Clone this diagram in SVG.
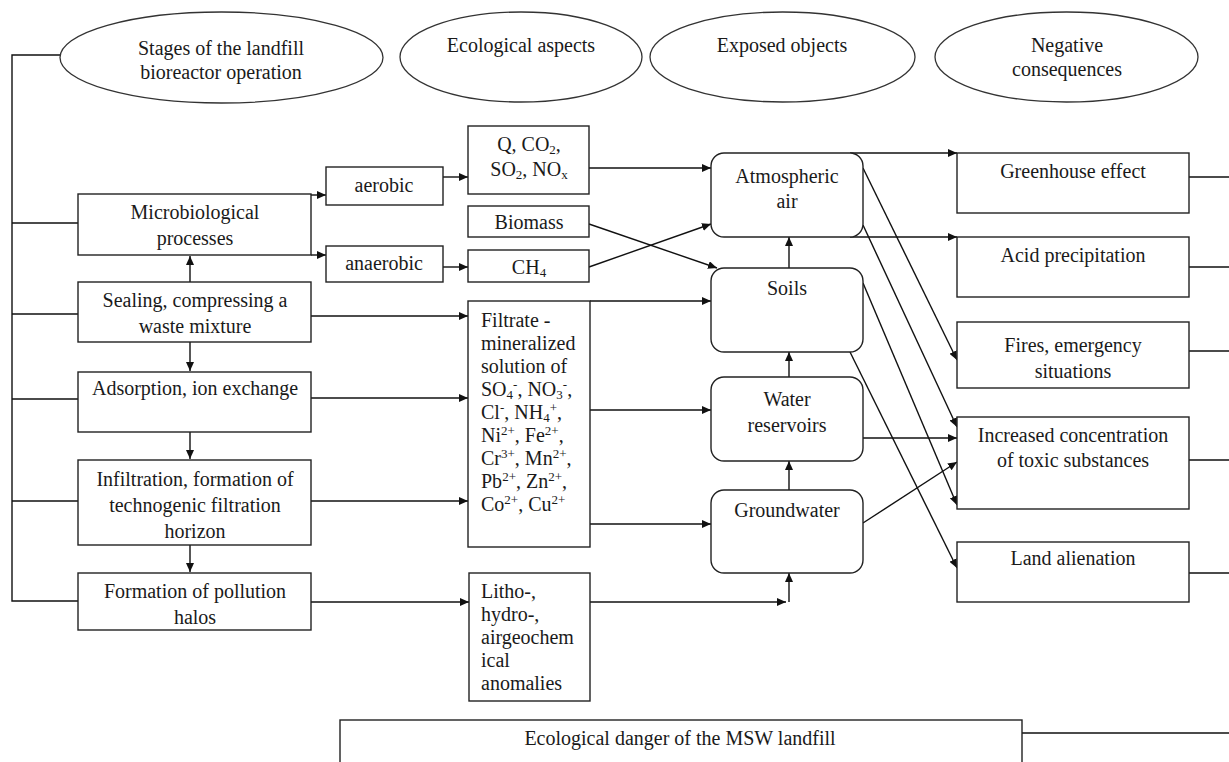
<svg xmlns="http://www.w3.org/2000/svg" width="1229" height="762" viewBox="0 0 1229 762">
<defs>
<marker id="ah" markerUnits="userSpaceOnUse" markerWidth="9" markerHeight="8" refX="9" refY="4" orient="auto"><path d="M0,0 L9,4 L0,8 z" fill="#111"/></marker>
<style>
text{font-family:"Liberation Serif","Times New Roman",serif;font-size:20px;fill:#1a1a1a}
.c{text-anchor:middle}
.n{fill:#fff;stroke:#222;stroke-width:1.4}
.e{fill:#fff;stroke:#333;stroke-width:1.3}
.l{fill:none;stroke:#111;stroke-width:1.4}
.a{fill:none;stroke:#111;stroke-width:1.4;marker-end:url(#ah)}
.s{font-size:13px}
</style>
</defs>
<rect width="1229" height="762" fill="#fff"/>

<g id="connectors">
<path class="l" d="M61,55 H12 V601 H78 M12,223 H78 M12,314 H78 M12,399 H78 M12,501 H78"/>
<path class="a" d="M190,282 V256"/>
<path class="a" d="M190,342 V371"/>
<path class="a" d="M190,432 V459"/>
<path class="a" d="M190,545 V572"/>
<path class="a" d="M311,195 H326"/>
<path class="a" d="M311,255 H326"/>
<path class="a" d="M443,177 H468"/>
<path class="a" d="M443,267 H468"/>
<path class="a" d="M311,316 H468"/>
<path class="a" d="M311,398 H468"/>
<path class="a" d="M311,501 H468"/>
<path class="a" d="M311,602 H469"/>
<path class="a" d="M589,168 H711"/>
<path class="a" d="M589,224 L717,268"/>
<path class="a" d="M589,267 L711,224"/>
<path class="a" d="M590,301 H711"/>
<path class="a" d="M590,410 H711"/>
<path class="a" d="M590,524 H711"/>
<path class="a" d="M590,602 H786"/>
<path class="a" d="M789,602 V573"/>
<path class="a" d="M789,268 V237"/>
<path class="a" d="M789,377 V352"/>
<path class="a" d="M789,490 V461"/>
<path class="a" d="M850,153 H957"/>
<path class="a" d="M850,237 H957"/>
<path class="a" d="M863,168 L957,360"/>
<path class="a" d="M863,225 L957,427"/>
<path class="a" d="M863,283 L957,505"/>
<path class="a" d="M850,352 L957,568"/>
<path class="a" d="M863,438 H957"/>
<path class="a" d="M863,523 L957,462"/>
<path class="l" d="M1189,177 H1229 M1189,267 H1229 M1189,351 H1229 M1189,460 H1229 M1189,573 H1229 M1022,733 H1229"/>
</g>

<g id="e-stages"><ellipse class="e" cx="221.5" cy="57.5" rx="161.5" ry="45.5"/><text class="c" x="221" y="55">Stages of the landfill</text><text class="c" x="221" y="79">bioreactor operation</text></g>
<g id="e-aspects"><ellipse class="e" cx="521" cy="57" rx="121" ry="45"/><text class="c" x="521" y="52">Ecological aspects</text></g>
<g id="e-exposed"><ellipse class="e" cx="782.5" cy="57" rx="132.5" ry="45"/><text class="c" x="782" y="52">Exposed objects</text></g>
<g id="e-negative"><ellipse class="e" cx="1066.5" cy="57" rx="131.5" ry="45"/><text class="c" x="1067" y="52">Negative</text><text class="c" x="1067" y="76">consequences</text></g>

<g id="n-micro"><rect class="n" x="78" y="194" width="233" height="61"/><text class="c" x="195" y="219">Microbiological</text><text class="c" x="195" y="245">processes</text></g>
<g id="n-sealing"><rect class="n" x="78" y="282" width="233" height="60"/><text class="c" x="195" y="307">Sealing, compressing a</text><text class="c" x="195" y="333">waste mixture</text></g>
<g id="n-adsorption"><rect class="n" x="78" y="372" width="233" height="60"/><text class="c" x="195" y="395">Adsorption, ion exchange</text></g>
<g id="n-infiltration"><rect class="n" x="78" y="460" width="233" height="85"/><text class="c" x="195" y="486">Infiltration, formation of</text><text class="c" x="195" y="512">technogenic filtration</text><text class="c" x="195" y="538">horizon</text></g>
<g id="n-halos"><rect class="n" x="78" y="573" width="233" height="57"/><text class="c" x="195" y="598">Formation of pollution</text><text class="c" x="195" y="624">halos</text></g>

<g id="n-aerobic"><rect class="n" x="326" y="167" width="117" height="38"/><text class="c" x="384" y="192">aerobic</text></g>
<g id="n-anaerobic"><rect class="n" x="326" y="246" width="117" height="36"/><text class="c" x="384" y="270">anaerobic</text></g>

<g id="n-gases"><rect class="n" x="468" y="126" width="121" height="68"/><text class="c" x="529" y="151">Q, CO<tspan class="s" dy="3">2</tspan><tspan dy="-3">,</tspan></text><text class="c" x="529" y="176">SO<tspan class="s" dy="3">2</tspan><tspan dy="-3">, NO</tspan><tspan class="s" dy="3">x</tspan></text></g>
<g id="n-biomass"><rect class="n" x="468" y="206" width="121" height="31"/><text class="c" x="529" y="229">Biomass</text></g>
<g id="n-ch4"><rect class="n" x="468" y="250" width="121" height="32"/><text class="c" x="529" y="274">CH<tspan class="s" dy="3">4</tspan></text></g>
<g id="n-filtrate"><rect class="n" x="468" y="301" width="122" height="246"/>
<text x="481" y="327">Filtrate -</text>
<text x="481" y="350">mineralized</text>
<text x="481" y="373">solution of</text>
<text x="481" y="396">SO<tspan class="s" dy="3">4</tspan><tspan class="s" dy="-10">-</tspan><tspan dy="7">, NO</tspan><tspan class="s" dy="3">3</tspan><tspan class="s" dy="-10">-</tspan><tspan dy="7">,</tspan></text>
<text x="481" y="419">Cl<tspan class="s" dy="-7">-</tspan><tspan dy="7">, NH</tspan><tspan class="s" dy="3">4</tspan><tspan class="s" dy="-10">+</tspan><tspan dy="7">,</tspan></text>
<text x="481" y="442">Ni<tspan class="s" dy="-7">2+</tspan><tspan dy="7">, Fe</tspan><tspan class="s" dy="-7">2+</tspan><tspan dy="7">,</tspan></text>
<text x="481" y="465">Cr<tspan class="s" dy="-7">3+</tspan><tspan dy="7">, Mn</tspan><tspan class="s" dy="-7">2+</tspan><tspan dy="7">,</tspan></text>
<text x="481" y="488">Pb<tspan class="s" dy="-7">2+</tspan><tspan dy="7">, Zn</tspan><tspan class="s" dy="-7">2+</tspan><tspan dy="7">,</tspan></text>
<text x="481" y="511">Co<tspan class="s" dy="-7">2+</tspan><tspan dy="7">, Cu</tspan><tspan class="s" dy="-7">2+</tspan></text>
</g>
<g id="n-litho"><rect class="n" x="469" y="573" width="121" height="128"/>
<text x="481" y="598">Litho-,</text>
<text x="481" y="621">hydro-,</text>
<text x="481" y="644">airgeochem</text>
<text x="481" y="667">ical</text>
<text x="481" y="690">anomalies</text>
</g>

<g id="n-air"><rect class="n" x="711" y="153" width="152" height="84" rx="13"/><text class="c" x="787" y="183">Atmospheric</text><text class="c" x="787" y="208">air</text></g>
<g id="n-soils"><rect class="n" x="711" y="268" width="152" height="84" rx="13"/><text class="c" x="787" y="295">Soils</text></g>
<g id="n-water"><rect class="n" x="711" y="377" width="152" height="84" rx="13"/><text class="c" x="787" y="406">Water</text><text class="c" x="787" y="432">reservoirs</text></g>
<g id="n-ground"><rect class="n" x="711" y="490" width="152" height="83" rx="13"/><text class="c" x="787" y="517">Groundwater</text></g>

<g id="n-greenhouse"><rect class="n" x="957" y="153" width="232" height="60"/><text class="c" x="1073" y="178">Greenhouse effect</text></g>
<g id="n-acid"><rect class="n" x="957" y="237" width="232" height="60"/><text class="c" x="1073" y="262">Acid precipitation</text></g>
<g id="n-fires"><rect class="n" x="957" y="322" width="232" height="66"/><text class="c" x="1073" y="352">Fires, emergency</text><text class="c" x="1073" y="378">situations</text></g>
<g id="n-toxic"><rect class="n" x="957" y="417" width="232" height="92"/><text class="c" x="1073" y="442">Increased concentration</text><text class="c" x="1073" y="467">of toxic substances</text></g>
<g id="n-land"><rect class="n" x="957" y="542" width="232" height="60"/><text class="c" x="1073" y="565">Land alienation</text></g>

<g id="n-danger"><rect class="n" x="340" y="720" width="682" height="60"/><text class="c" x="680" y="745">Ecological danger of the MSW landfill</text></g>
</svg>
